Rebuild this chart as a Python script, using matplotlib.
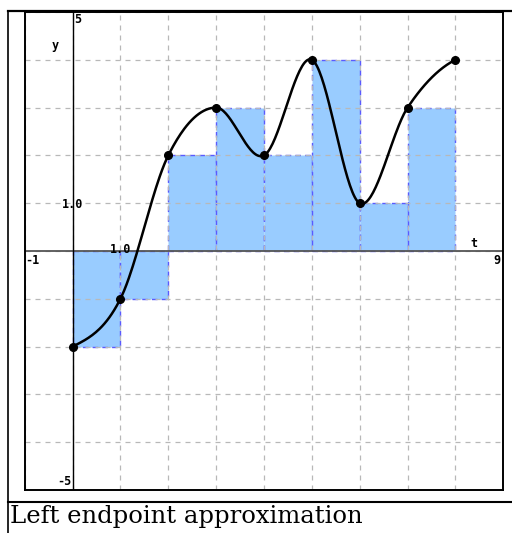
import numpy as np
import matplotlib

matplotlib.use("Agg")
import matplotlib.pyplot as plt
from matplotlib.lines import Line2D

t = [0, 1, 2, 3, 4, 5, 6, 7, 8]
y = [-2, -1, 2, 3, 2, 4, 1, 3, 4]
caption = "Left endpoint approximation"

W, H = 512, 533
fig = plt.figure(figsize=(W / 100, H / 100), dpi=100)
ax = fig.add_axes([24.7 / W, (H - 490) / H, 478.6 / W, 478 / H])
ax.set_xlim(-1, 8.97)
ax.set_ylim(-5, 5)


def catmull_rom(xs, ys, n=40):
    xs = np.asarray(xs, float)
    ys = np.asarray(ys, float)
    m = np.empty_like(ys)
    m[1:-1] = (ys[2:] - ys[:-2]) / 2
    m[0] = (ys[1] - ys[0]) / 2
    m[-1] = (ys[-1] - ys[-2]) / 2
    px, py = [], []
    for i in range(len(xs) - 1):
        s = np.linspace(0, 1, n)
        h00 = 2 * s**3 - 3 * s**2 + 1
        h10 = s**3 - 2 * s**2 + s
        h01 = -2 * s**3 + 3 * s**2
        h11 = s**3 - s**2
        px.append(xs[i] + s * (xs[i + 1] - xs[i]))
        py.append(h00 * ys[i] + h10 * m[i] + h01 * ys[i + 1] + h11 * m[i + 1])
    return np.concatenate(px), np.concatenate(py)


# left endpoint rectangles
ax.bar(t[:-1], y[:-1], width=1, align="edge", color="#99ccff",
       edgecolor="#5a5aff", linewidth=1.0, linestyle=(0, (4, 3)), zorder=1)

ax.set_xticks(np.arange(-1, 10))
ax.set_yticks(np.arange(-5, 6))
ax.grid(True, color="#b8b8b8", linestyle=(0, (4, 4)), linewidth=0.9, zorder=2)
ax.set_axisbelow(False)
ax.tick_params(left=False, bottom=False, labelleft=False, labelbottom=False)
for sp in ax.spines.values():
    sp.set_linewidth(1.4)
    sp.set_zorder(6)

ax.axhline(0, color="#555555", linewidth=1.3, zorder=3)
ax.axvline(0, color="black", linewidth=1.0, zorder=3)

cx, cy = catmull_rom(t, y)
ax.plot(cx, cy, color="black", linewidth=1.8, zorder=4)
ax.plot(t, y, "o", color="black", markersize=5.5, zorder=5)

lab = dict(family="DejaVu Sans Mono", fontweight="bold", fontsize=8.5, zorder=7)
ax.text(0.04, 4.97, "5", ha="left", va="top", **lab)
ax.text(-0.37, 4.3, "y", ha="center", va="center", **lab)
ax.text(0, 0.97, "1.0", ha="center", va="center", **lab)
ax.text(1, 0.03, "1.0", ha="center", va="center", **lab)
ax.text(-0.99, -0.06, "-1", ha="left", va="top", **lab)
ax.text(8.94, -0.06, "9", ha="right", va="top", **lab)
ax.text(8.39, 0.16, "t", ha="center", va="center", **lab)
ax.text(-0.03, -4.95, "-5", ha="right", va="bottom", **lab)

# outer frame and caption row
fx = 7.5 / W
fig.add_artist(Line2D([fx, fx], [0, (H - 11) / H], color="black", linewidth=1.2))
fig.add_artist(Line2D([fx, 1], [(H - 11) / H] * 2, color="black", linewidth=1.6))
fig.add_artist(Line2D([fx, 1], [(H - 501.5) / H] * 2, color="black", linewidth=1.5))
fig.text(10 / W, (H - 523) / H, caption, family="DejaVu Serif",
         fontsize=17.5, ha="left", va="baseline")

fig.savefig("out.png", dpi=100)
